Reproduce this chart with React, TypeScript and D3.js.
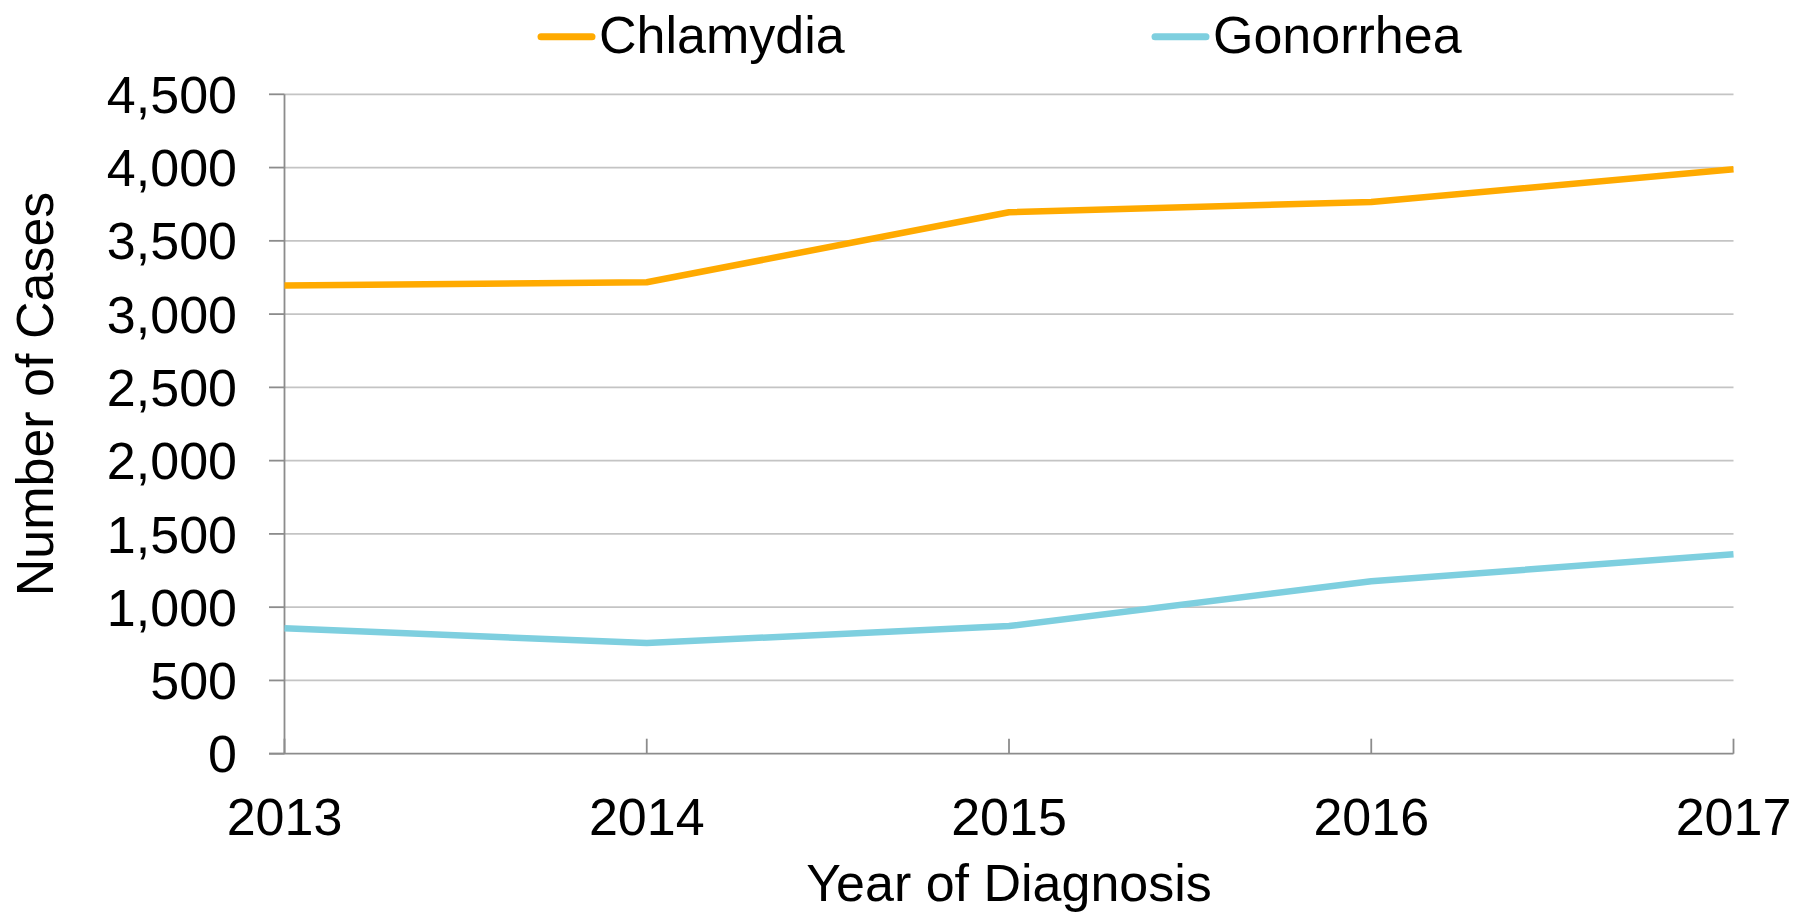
import React from "react";
import * as d3 from "d3";

const years = ["2013", "2014", "2015", "2016", "2017"];
const chlamydia = [3195, 3217, 3695, 3765, 3988];
const gonorrhea = [856, 755, 871, 1177, 1361];
const yTicks = [0, 500, 1000, 1500, 2000, 2500, 3000, 3500, 4000, 4500];
const seriesNames = ["Chlamydia", "Gonorrhea"];
const seriesColors = ["#FFAA00", "#7ECFDF"];

const W = 1806;
const H = 914;
const FONT = "'Liberation Sans', Arial, Helvetica, sans-serif";

export default function App() {
  const x = d3.scalePoint<string>().domain(years).range([284.5, 1733.5]);
  const y = d3.scaleLinear().domain([0, 4500]).range([753.7, 94.3]);
  const line = d3
    .line<number>()
    .x((_, i) => x(years[i]) as number)
    .y((d) => y(d));
  const series = [chlamydia, gonorrhea];
  const legendX = [541, 1155];

  return (
    <svg
      width={W}
      height={H}
      style={{ position: "absolute", left: 0, top: 0, background: "#fff" }}
      fontFamily={FONT}
    >
      {/* gridlines */}
      {yTicks.slice(1).map((t) => (
        <line
          key={"g" + t}
          x1={284.5}
          x2={1733.5}
          y1={y(t)}
          y2={y(t)}
          stroke="#c4c4c4"
          strokeWidth={1.8}
        />
      ))}
      {/* y ticks */}
      {yTicks.map((t) => (
        <line
          key={"yt" + t}
          x1={269}
          x2={284.5}
          y1={y(t)}
          y2={y(t)}
          stroke="#8c8c8c"
          strokeWidth={1.8}
        />
      ))}
      {/* y axis */}
      <line x1={284.5} x2={284.5} y1={y(4500)} y2={y(0)} stroke="#8c8c8c" strokeWidth={1.8} />
      {/* x axis */}
      <line x1={269} x2={1733.5} y1={y(0)} y2={y(0)} stroke="#8c8c8c" strokeWidth={1.8} />
      {years.map((yr) => (
        <line
          key={"xt" + yr}
          x1={x(yr)}
          x2={x(yr)}
          y1={y(0)}
          y2={y(0) - 15}
          stroke="#8c8c8c"
          strokeWidth={1.8}
        />
      ))}
      {/* y tick labels */}
      {yTicks.map((t) => (
        <text
          key={"yl" + t}
          x={237}
          y={y(t)}
          dy="0.358em"
          textAnchor="end"
          fontSize={52}
          fill="#000"
        >
          {d3.format(",")(t)}
        </text>
      ))}
      {/* x tick labels */}
      {years.map((yr) => (
        <text key={"xl" + yr} x={x(yr)} y={835} textAnchor="middle" fontSize={52} fill="#000">
          {yr}
        </text>
      ))}
      {/* lines */}
      {series.map((s, i) => (
        <path
          key={"s" + i}
          d={line(s) || ""}
          fill="none"
          stroke={seriesColors[i]}
          strokeWidth={6.5}
          strokeLinejoin="round"
        />
      ))}
      {/* axis titles */}
      <text x={1009} y={901} textAnchor="middle" fontSize={52} fill="#000">
        Year of Diagnosis
      </text>
      <text
        transform="translate(53,394) rotate(-90)"
        textAnchor="middle"
        fontSize={52}
        fill="#000"
      >
        Number of Cases
      </text>
      {/* legend */}
      {seriesNames.map((n, i) => (
        <g key={"lg" + n}>
          <line
            x1={legendX[i]}
            x2={legendX[i] + 51}
            y1={36.7}
            y2={36.7}
            stroke={seriesColors[i]}
            strokeWidth={7}
            strokeLinecap="round"
          />
          <text x={legendX[i] + 58} y={53.3} fontSize={52} fill="#000">
            {n}
          </text>
        </g>
      ))}
    </svg>
  );
}
